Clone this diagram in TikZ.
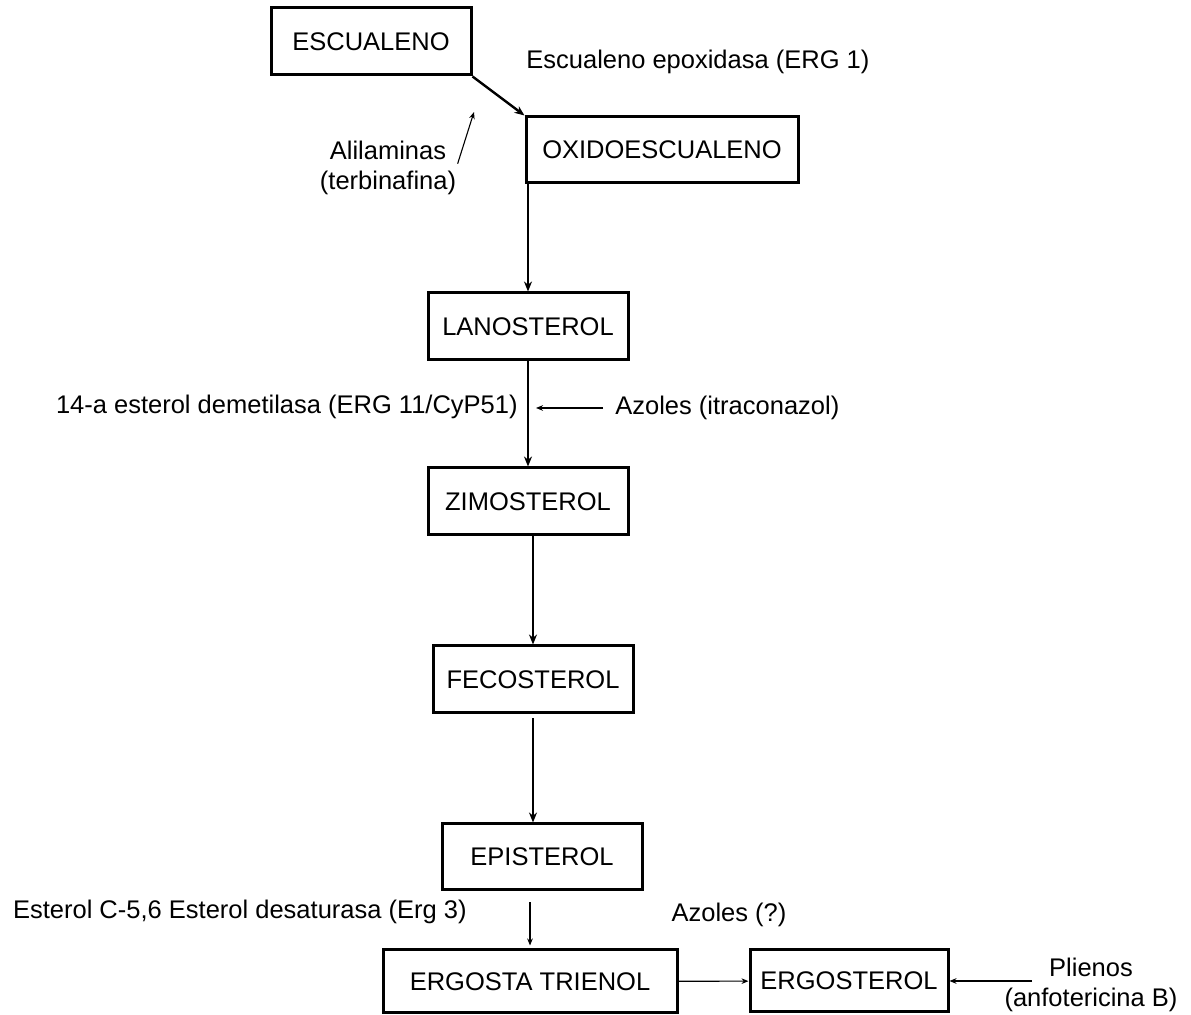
\documentclass[tikz,border=0pt]{standalone}
\usepackage{fontspec}
\setmainfont{Liberation Sans}
\usetikzlibrary{arrows.meta, positioning, calc}

\begin{document}
\begin{tikzpicture}[
  x=0.5pt, y=-0.5pt,
  box/.style={draw=black, line width=1.5pt, minimum width=100pt, minimum height=33.5pt,
              inner sep=0pt, font=\fontsize{12.75}{15}\selectfont},
  lbl/.style={font=\fontsize{12.75}{15}\selectfont, inner sep=0pt, align=center},
  arr/.style={-{Stealth[length=5pt, width=4pt]}, line width=1.2pt},
  thinarr/.style={-{Stealth[length=3.5pt, width=2.8pt]}, line width=0.55pt}
]
\useasboundingbox (0,0) rectangle (1191,1015);

\node[box] (esc) at (371,41.5) {ESCUALENO};
\node[box, minimum width=136pt, minimum height=33pt] (oxido) at (662,150) {OXIDOESCUALENO};
\node[box] (lano) at (528,326.5) {LANOSTEROL};
\node[box] (zimo) at (528,501.5) {ZIMOSTEROL};
\node[box] (feco) at (533,679.5) {FECOSTEROL};
\node[box, minimum height=33pt] (epi) at (542,857) {EPISTEROL};
\node[box, minimum width=147pt, minimum height=31.5pt] (trienol) at (530,981.5) {ERGOSTA TRIENOL};
\node[box, minimum width=99pt, minimum height=31pt] (ergo) at (849,981) {ERGOSTEROL};

\node[lbl, anchor=west] (epox) at (526,62) {Escualeno epoxidasa (ERG 1)};
\node[lbl] (alil) at (388,167.5) {Alilaminas\\(terbinafina)};
\node[lbl, anchor=east] (demet) at (518,407) {14-a esterol demetilasa (ERG 11/CyP51)};
\node[lbl, anchor=west] (azol) at (615,408) {Azoles (itraconazol)};
\node[lbl, anchor=east] (desat) at (467,912) {Esterol C-5,6 Esterol desaturasa (Erg 3)};
\node[lbl] (azolq) at (729,915) {Azoles (?)};
\node[lbl] (plien) at (1091,985) {Plienos\\(anfotericina B)};

\coordinate (alilTip) at (474,112);

\draw[arr] (esc.south east) -- (oxido.north west);
\draw[thinarr, shorten <=2pt] (alil.east) -- (alilTip);
\draw[arr] (oxido.south -| lano.north) -- (lano.north);
\draw[arr] (lano) -- (zimo);
\draw[thinarr, shorten >=4pt] ([xshift=-6pt]azol.west) -- (azol.west -| lano.south);
\draw[arr] (zimo.south -| feco.north) -- (feco.north);
\draw[arr, shorten <=2pt] (feco.south) -- (feco.south |- epi.north);
\draw[thinarr, shorten <=5.5pt, shorten >=1.5pt] (epi.south -| trienol.north) -- (trienol.north);
\draw[thinarr] (trienol) -- (ergo);
\draw[thinarr] ($(plien.west |- ergo.east)+(28,0)$) -- (ergo.east);
\end{tikzpicture}
\end{document}
